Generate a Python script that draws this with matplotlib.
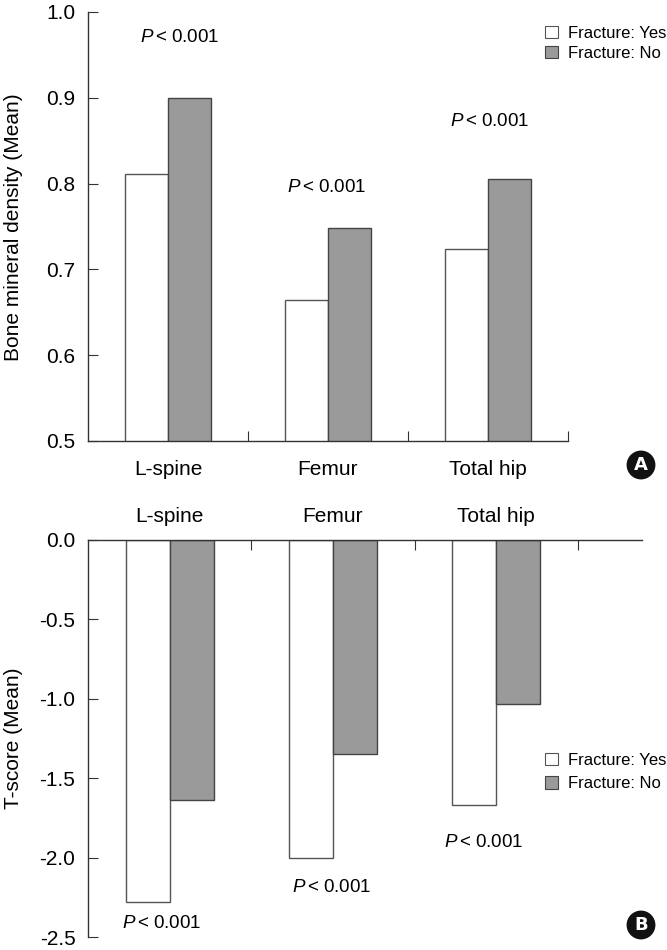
import numpy as np
import matplotlib
matplotlib.use('Agg')
import matplotlib.pyplot as plt
from matplotlib.patches import Patch

# ........................................................ data
sites = ['L-spine', 'Femur', 'Total hip']
bmd_yes = [0.811, 0.664, 0.724]
bmd_no = [0.900, 0.748, 0.805]
tscore_yes = [-2.28, -2.00, -1.67]
tscore_no = [-1.64, -1.35, -1.03]
bmd_ticks = [0.5, 0.6, 0.7, 0.8, 0.9, 1.0]
tscore_ticks = [0.0, -0.5, -1.0, -1.5, -2.0, -2.5]
ptext = r'$\mathit{P}\,$< 0.001'

# ........................................................ style
plt.rcParams['font.family'] = ['Liberation Sans', 'DejaVu Sans']
plt.rcParams['mathtext.fontset'] = 'custom'
plt.rcParams['mathtext.it'] = 'Liberation Sans:italic'
plt.rcParams['mathtext.rm'] = 'Liberation Sans'
plt.rcParams['axes.unicode_minus'] = False
white = 'white'
gray = '#9a9a9a'
ecol = '#555555'
axcol = '#333333'
w = 0.27
fs = 15

fig = plt.figure(figsize=(6.67, 9.5), dpi=100)
axA = fig.add_axes([0.1319, 0.5358, 0.7196, 0.4516])
axB = fig.add_axes([0.1319, 0.01368, 0.8306, 0.4179])

x = np.arange(len(sites))

def style(ax):
  for s in ax.spines.values():
    s.set_color(axcol)
    s.set_linewidth(1.0)
  ax.tick_params(axis='y', direction='in', length=7, width=0.8, color=axcol,
                 labelsize=fs, pad=9)
  ax.tick_params(axis='x', which='major', length=0, labelsize=fs)
  ax.tick_params(axis='x', which='minor', direction='in', length=7,
                 width=0.8, color=axcol)
  ax.set_xticks(x)
  ax.set_xticklabels(sites)
  ax.set_xticks([0.5, 1.5, 2.5], minor=True)

# ........................................................ panel A
axA.bar(x - w/2, bmd_yes, w, color=white, edgecolor=ecol, linewidth=1.0)
axA.bar(x + w/2, bmd_no, w, color=gray, edgecolor='#444444', linewidth=1.0)
axA.set_ylim(0.5, 1.0)
axA.set_xlim(-0.5, 2.5)
axA.set_yticks(bmd_ticks)
axA.set_yticklabels(['%.1f' % v for v in bmd_ticks])
axA.spines['top'].set_visible(False)
axA.spines['right'].set_visible(False)
style(axA)
axA.tick_params(axis='x', which='major', pad=13.5)
for xp, yp in [(0.075, 0.970), (0.99, 0.795), (2.01, 0.872)]:
  axA.text(xp, yp, ptext, ha='center', va='center', fontsize=13.5)

# ........................................................ panel B
axB.bar(x - w/2, tscore_yes, w, color=white, edgecolor=ecol, linewidth=1.0)
axB.bar(x + w/2, tscore_no, w, color=gray, edgecolor='#444444', linewidth=1.0)
axB.set_ylim(-2.5, 0.0)
axB.set_xlim(-0.5, 2.892)
axB.set_yticks(tscore_ticks)
axB.set_yticklabels(['%.1f' % v for v in tscore_ticks])
axB.spines['bottom'].set_visible(False)
axB.spines['right'].set_visible(False)
axB.xaxis.tick_top()
style(axB)
axB.tick_params(axis='x', which='major', pad=10)
for xp, yp in [(-0.047, -2.415), (0.994, -2.19), (1.92, -1.905)]:
  axB.text(xp, yp, ptext, ha='center', va='center', fontsize=13.5)

# ........................................................ labels
fig.text(14/667, 1 - 227/950, 'Bone mineral density (Mean)', rotation=90,
         ha='center', va='center', fontsize=fs)
fig.text(14/667, 1 - 738/950, 'T-score (Mean)', rotation=90,
         ha='center', va='center', fontsize=fs)

handles = [Patch(facecolor=white, edgecolor=ecol, linewidth=0.8),
           Patch(facecolor=gray, edgecolor='#444444', linewidth=0.8)]
names = ['Fracture: Yes', 'Fracture: No']
for ytop, sp in [(26, 0.3), (753, 0.5)]:
  fig.legend(handles, names, loc='upper left',
             bbox_to_anchor=(545/667, 1 - ytop/950), frameon=False,
             fontsize=12, handlelength=0.75, handleheight=0.75,
             handletextpad=0.6, labelspacing=sp, borderpad=0, borderaxespad=0)

for yc, lab in [(465, 'A'), (925, 'B')]:
  fig.text(641/667, 1 - yc/950, lab, ha='center', va='center', color='white',
           fontsize=13, fontweight='bold', family='DejaVu Sans',
           bbox=dict(boxstyle='circle,pad=0.3', fc='#111111', ec='none'))

fig.savefig('out.png', dpi=100)
